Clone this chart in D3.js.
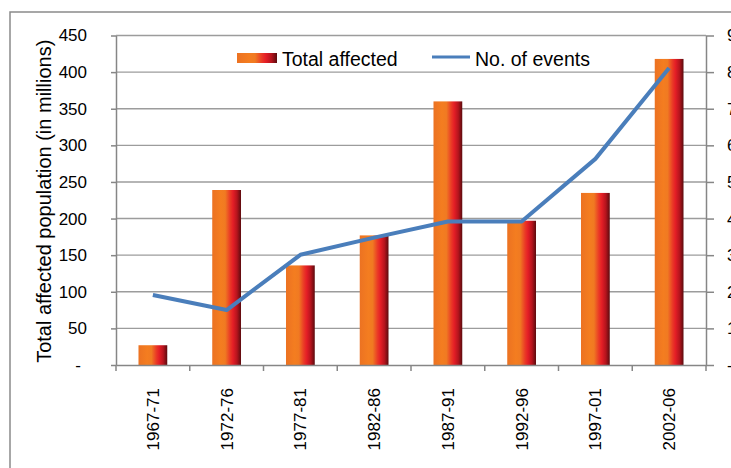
<!DOCTYPE html>
<html>
<head>
<meta charset="utf-8">
<script src="https://cdn.jsdelivr.net/npm/d3@7"></script>
<style>
  html, body { margin: 0; padding: 0; background: #fff; }
  svg { display: block; font-family: "Liberation Sans", Arial, sans-serif; }
</style>
</head>
<body>
<svg id="chart" width="731" height="468"></svg>
<script>
// ---- data ----
const categories = ["1967-71", "1972-76", "1977-81", "1982-86", "1987-91", "1992-96", "1997-01", "2002-06"];
const totalAffected = [27, 239, 136, 177, 360, 197, 235, 418];
const numEvents = [191, 150, 301, 348, 392, 392, 563, 811];
const leftTicks = [0, 50, 100, 150, 200, 250, 300, 350, 400, 450];
const rightTicks = [0, 100, 200, 300, 400, 500, 600, 700, 800, 900];
const seriesNames = ["Total affected", "No. of events"];
const yTitle = "Total affected population (in millions)";

// ---- layout ----
const svg = d3.select("#chart");
const plot = { left: 116, right: 706, top: 35.5, bottom: 365 };

const x = d3.scaleBand().domain(categories).range([plot.left, plot.right]).padding(0);
const yL = d3.scaleLinear().domain([0, 450]).range([plot.bottom, plot.top]);
const yR = d3.scaleLinear().domain([0, 900]).range([plot.bottom, plot.top]);
const barW = x.bandwidth() * 0.39;

// gradient for bars
const defs = svg.append("defs");
const grad = defs.append("linearGradient").attr("id", "barGrad")
  .attr("x1", "0%").attr("x2", "100%").attr("y1", "0%").attr("y2", "0%");
[["0%", "#ec7222"], ["30%", "#f47d20"], ["45%", "#f07a22"], ["62%", "#ea3a26"], ["72%", "#e41e26"], ["86%", "#b5141d"], ["100%", "#5c0b0e"]]
  .forEach(([o, c]) => grad.append("stop").attr("offset", o).attr("stop-color", c));

// outer border
svg.append("rect").attr("x", 10).attr("y", 12).attr("width", 760).attr("height", 480)
  .attr("fill", "none").attr("stroke", "#8a8a8a").attr("stroke-width", 1.5);

// gridlines
svg.append("g").selectAll("line").data(leftTicks.filter(d => d > 0)).join("line")
  .attr("x1", plot.left).attr("x2", plot.right)
  .attr("y1", d => yL(d)).attr("y2", d => yL(d))
  .attr("stroke", "#9c9c9c").attr("stroke-width", 1.4);

// bars
svg.append("g").selectAll("rect").data(categories).join("rect")
  .attr("x", (d) => x(d) + (x.bandwidth() - barW) / 2)
  .attr("width", barW)
  .attr("y", (d, i) => yL(totalAffected[i]))
  .attr("height", (d, i) => yL(0) - yL(totalAffected[i]))
  .attr("fill", "url(#barGrad)");

// line
const line = d3.line()
  .x((d, i) => x(categories[i]) + x.bandwidth() / 2)
  .y(d => yR(d));
svg.append("path").datum(numEvents)
  .attr("d", line).attr("fill", "none")
  .attr("stroke", "#4a7ebb").attr("stroke-width", 4)
  .attr("stroke-linejoin", "round").attr("stroke-linecap", "butt");

// axes
const axisColor = "#868686";
function styleAxis(g) {
  g.selectAll(".domain").attr("stroke", axisColor).attr("stroke-width", 1.5);
  g.selectAll(".tick line").attr("stroke", axisColor).attr("stroke-width", 1.5);
  g.selectAll("text").attr("fill", "#000").attr("font-family", "Liberation Sans, Arial, sans-serif");
}

const gL = svg.append("g").attr("transform", `translate(${plot.left},0)`)
  .call(d3.axisLeft(yL).tickValues(leftTicks).tickSize(5).tickSizeOuter(0).tickPadding(24)
    .tickFormat(d => d === 0 ? "-" : d));
styleAxis(gL);
gL.selectAll("text").attr("font-size", 17);
gL.selectAll(".tick").filter(d => d === 0).select("text").attr("dx", -6);

const gR = svg.append("g").attr("transform", `translate(${plot.right},0)`)
  .call(d3.axisRight(yR).tickValues(rightTicks).tickSize(8).tickSizeOuter(0).tickPadding(13)
    .tickFormat(d => d === 0 ? "-" : d));
styleAxis(gR);
gR.selectAll("text").attr("font-size", 17);

// bottom axis: labels centered in bands, ticks at band boundaries
const gB = svg.append("g").attr("transform", `translate(0,${plot.bottom})`)
  .call(d3.axisBottom(x).tickSize(0).tickSizeOuter(0).tickPadding(0));
styleAxis(gB);
gB.selectAll(".tick text")
  .attr("font-size", 17)
  .attr("transform", "rotate(-90)")
  .attr("text-anchor", "end")
  .attr("x", -23).attr("y", 0).attr("dy", "0.35em");
const bounds = categories.map(c => x(c)).concat([x.range()[1]]);
gB.selectAll(".bt").data(bounds).join("line").attr("class", "bt")
  .attr("x1", d => d).attr("x2", d => d).attr("y1", 0).attr("y2", 6)
  .attr("stroke", axisColor).attr("stroke-width", 1.5);

// y title
svg.append("text")
  .attr("transform", `translate(51,${(plot.top + plot.bottom) / 2 + 1}) rotate(-90)`)
  .attr("text-anchor", "middle").attr("font-size", 20).attr("fill", "#000")
  .text(yTitle);

// legend
const lg = svg.append("g");
lg.append("rect").attr("x", 237).attr("y", 53).attr("width", 40).attr("height", 10).attr("fill", "url(#barGrad)");
lg.append("text").attr("x", 282).attr("y", 65.5).attr("font-size", 19.5).attr("fill", "#000").text(seriesNames[0]);
lg.append("line").attr("x1", 432).attr("x2", 470).attr("y1", 57).attr("y2", 57)
  .attr("stroke", "#4a7ebb").attr("stroke-width", 3);
lg.append("text").attr("x", 475).attr("y", 65.5).attr("font-size", 19.5).attr("fill", "#000").text(seriesNames[1]);
</script>
</body>
</html>
